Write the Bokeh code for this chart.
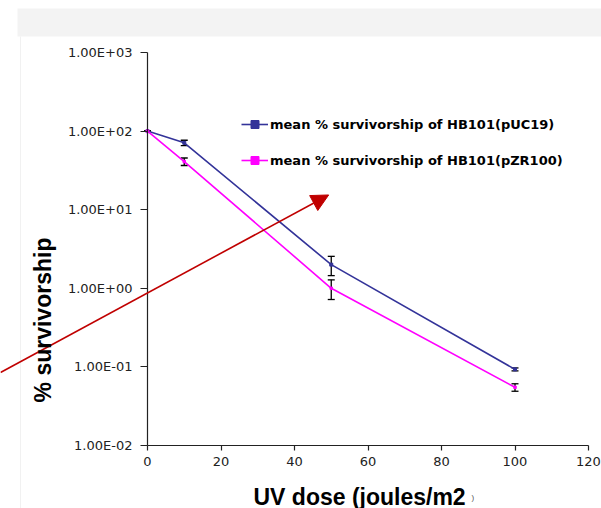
import math
from bokeh.plotting import figure
from bokeh.models import (ColumnDataSource, Whisker, TeeHead, Arrow, NormalHead, Label,
                          BoxAnnotation, FixedTicker, Legend, LegendItem, Range1d)
from bokeh.embed import file_html
from bokeh.resources import INLINE

# ---- data ----
dose = [0, 10, 50, 100]
puc19_mean = [100, 71, 2.0, 0.093]
puc19_err = [0, 5.5, 0.55, 0.004]
pzr100_mean = [100, 41, 1.0, 0.055]
pzr100_err = [0, 4.5, 0.28, 0.006]

series_labels = ["mean % survivorship of HB101(pUC19)",
                 "mean % survivorship of HB101(pZR100)"]
x_ticks = [0, 20, 40, 60, 80, 100, 120]
y_ticks = [0.01, 0.1, 1, 10, 100, 1000]
y_tick_labels = ["1.00E-02", "1.00E-01", "1.00E+00", "1.00E+01", "1.00E+02", "1.00E+03"]
x_label = "UV dose (joules/m2"
y_label = "% survivorship"
# red arrow (data coordinates of the chart)
arrow_from = (-40.0, 0.085)
arrow_to = (49.3, 15.4)

BLUE = "#333399"
MAGENTA = "#ff00ff"
RED = "#c00000"

# canvas and the area taken by the axes' data span (pixels)
W, H = 601, 508
A_LEFT, A_RIGHT, A_TOP, A_BOTTOM = 147, 13, 52, 63
X0, X1 = 0, 120
Y0, Y1 = 0.01, 1000

aw = W - A_LEFT - A_RIGHT
ah = H - A_TOP - A_BOTTOM
px_per_x = aw / (X1 - X0)
ly0, ly1 = math.log10(Y0), math.log10(Y1)
px_per_dec = ah / (ly1 - ly0)
x_range = Range1d(X0 - A_LEFT / px_per_x, X1 + A_RIGHT / px_per_x)
y_range = Range1d(10 ** (ly0 - A_BOTTOM / px_per_dec), 10 ** (ly1 + A_TOP / px_per_dec))

p = figure(width=W, height=H, y_axis_type="log",
           x_range=x_range, y_range=y_range,
           output_backend="svg", toolbar_location=None, min_border=0)
p.outline_line_color = None
p.grid.visible = False
p.background_fill_color = "white"
p.border_fill_color = "white"

# slide decoration: light gray band on top and faint panel edge
p.add_layout(BoxAnnotation(left=17, right=W, top=H - 8, bottom=H - 36,
                           left_units="screen", right_units="screen",
                           top_units="screen", bottom_units="screen",
                           fill_color="#f3f3f3", fill_alpha=1, line_color=None,
                           level="underlay"))
p.add_layout(BoxAnnotation(left=19.5, right=20.5, top=H - 36, bottom=0,
                           left_units="screen", right_units="screen",
                           top_units="screen", bottom_units="screen",
                           fill_color="#f1f1f1", fill_alpha=1, line_color=None,
                           level="underlay"))

xa, ya = p.xaxis[0], p.yaxis[0]
xa.fixed_location = Y0
xa.bounds = (X0, X1)
ya.fixed_location = X0
ya.bounds = (Y0, Y1)
for ax in (xa, ya):
    ax.axis_line_color = "#222222"
    ax.axis_line_width = 1.2
    ax.major_tick_line_color = "#222222"
    ax.major_tick_line_width = 1.2
    ax.major_tick_in = 0
    ax.minor_tick_line_color = None
    ax.major_label_text_font = "DejaVu Sans"
    ax.major_label_text_font_size = "13px"
    ax.major_label_text_color = "#222222"

xa.ticker = FixedTicker(ticks=x_ticks)
xa.major_tick_out = 5
xa.major_label_standoff = 6
ya.ticker = FixedTicker(ticks=y_ticks)
ya.major_label_overrides = {t: l for t, l in zip(y_ticks, y_tick_labels)}
ya.major_tick_out = 7
ya.major_label_standoff = 8

r1 = p.line(dose, puc19_mean, line_color=BLUE, line_width=1.6)
s1 = p.scatter(dose, puc19_mean, marker="square", size=3, color=BLUE)
r2 = p.line(dose, pzr100_mean, line_color=MAGENTA, line_width=1.6)
s2 = p.scatter(dose, pzr100_mean, marker="square", size=2.5, color=MAGENTA)

for mean, err in ((puc19_mean, puc19_err), (pzr100_mean, pzr100_err)):
    src = ColumnDataSource(dict(base=dose,
                                upper=[m + e for m, e in zip(mean, err)],
                                lower=[m - e for m, e in zip(mean, err)]))
    p.add_layout(Whisker(source=src, base="base", upper="upper", lower="lower",
                         dimension="height", line_color="black", line_width=1.3,
                         upper_head=TeeHead(size=7, line_color="black", line_width=1.3),
                         lower_head=TeeHead(size=7, line_color="black", line_width=1.3)))

legend = Legend(items=[LegendItem(label=series_labels[0], renderers=[r1, s1]),
                       LegendItem(label=series_labels[1], renderers=[r2, s2])],
                location=(A_LEFT + 94, A_BOTTOM + 275), padding=0, margin=0, spacing=16,
                label_height=20, glyph_height=20, glyph_width=27, label_standoff=2,
                label_text_font="DejaVu Sans", label_text_font_style="bold",
                label_text_font_size="13px", label_text_color="black",
                border_line_color=None, background_fill_alpha=0)
p.add_layout(legend)

p.add_layout(Arrow(x_start=arrow_from[0], y_start=arrow_from[1],
                   x_end=arrow_to[0], y_end=arrow_to[1],
                   line_color=RED, line_width=1.6,
                   end=NormalHead(size=17, fill_color=RED, line_color=RED)))

p.add_layout(Label(x=253, y=12, x_units="screen", y_units="screen", text=x_label,
                   text_font="Liberation Sans", text_font_style="bold",
                   text_font_size="23px", text_color="black",
                   text_align="left", text_baseline="alphabetic"))
p.add_layout(Label(x=471, y=11, x_units="screen", y_units="screen", text=")",
                   text_font="Liberation Sans", text_font_size="8px",
                   text_color="#555555", text_align="left", text_baseline="alphabetic"))
p.add_layout(Label(x=42, y=H - 319.5, x_units="screen", y_units="screen", text=y_label,
                   angle=math.pi / 2, text_font="Liberation Sans", text_font_style="bold",
                   text_font_size="23px", text_color="black",
                   text_align="center", text_baseline="alphabetic"))

open("out.html", "w").write(file_html(p, INLINE))
